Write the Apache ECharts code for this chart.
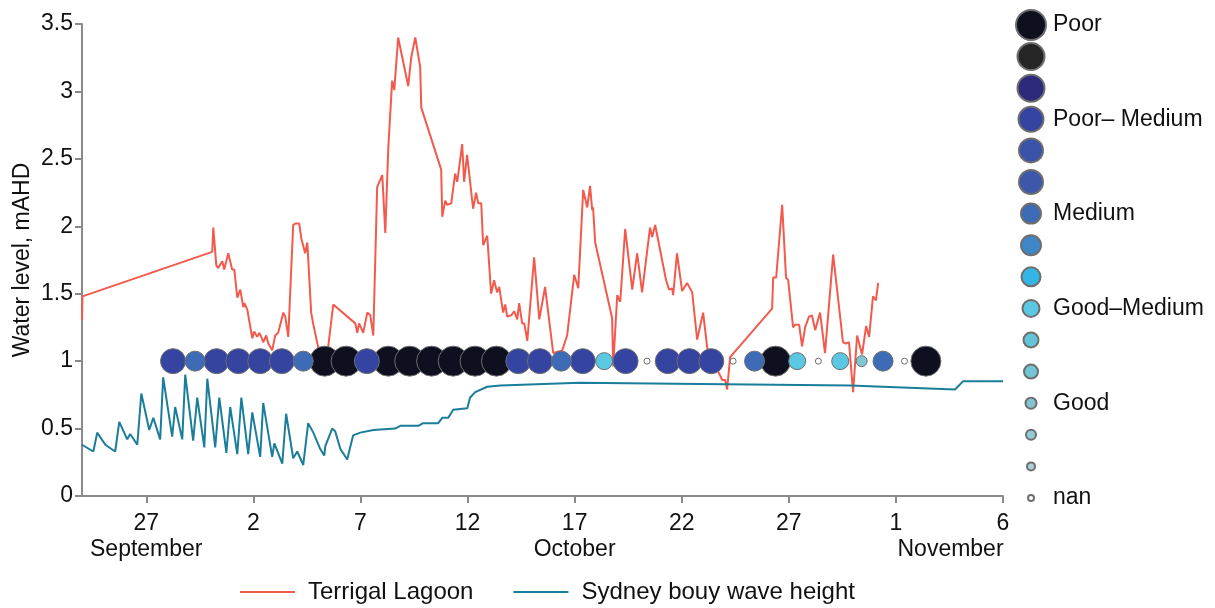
<!DOCTYPE html>
<html>
<head>
<meta charset="utf-8">
<title>Terrigal Lagoon water level</title>
<script src="https://cdn.jsdelivr.net/npm/echarts@6/dist/echarts.min.js"></script>
<style>
html, body { margin: 0; padding: 0; background: #fff; }
#main { width: 1215px; height: 608px; }
</style>
</head>
<body>
<div id="main"></div>
<script>
// all x values are days counted from 24 September

// [day, water level mAHD]
const lagoonLevel = [
    [0, 1.30], [0.02, 1.48], [6.08, 1.81], [6.13, 1.99], [6.27, 1.71], [6.36, 1.69], [6.55, 1.74],
    [6.64, 1.68], [6.83, 1.80], [7.01, 1.68], [7.11, 1.68], [7.25, 1.47], [7.39, 1.53], [7.53, 1.40],
    [7.58, 1.43], [7.72, 1.38], [7.95, 1.17], [8.04, 1.22], [8.18, 1.18], [8.28, 1.21], [8.37, 1.18],
    [8.46, 1.14], [8.60, 1.19], [8.70, 1.13], [8.88, 1.08], [9.02, 1.19], [9.16, 1.21], [9.40, 1.36],
    [9.49, 1.33], [9.63, 1.18], [9.86, 2.01], [9.96, 2.02], [10.14, 2.02], [10.24, 1.91], [10.33, 1.90],
    [10.42, 1.80], [10.52, 1.88], [10.70, 1.36], [10.79, 1.28], [11.03, 1.10], [11.21, 1.02], [11.49, 1.10],
    [11.73, 1.42], [12.76, 1.28], [12.85, 1.21], [12.94, 1.28], [13.13, 1.21], [13.32, 1.36], [13.46, 1.34],
    [13.60, 1.19], [13.78, 2.29], [14.02, 2.38], [14.16, 1.95], [14.30, 2.58], [14.48, 3.08], [14.58, 3.01],
    [14.76, 3.40], [15.23, 3.04], [15.37, 3.25], [15.56, 3.40], [15.79, 3.18], [15.84, 2.88], [16.77, 2.42],
    [16.82, 2.07], [16.96, 2.19], [17.05, 2.16], [17.24, 2.17], [17.42, 2.39], [17.52, 2.33], [17.75, 2.61],
    [17.84, 2.33], [17.98, 2.53], [18.26, 2.13], [18.40, 2.25], [18.50, 2.17], [18.64, 2.17], [18.73, 1.86],
    [18.92, 1.93], [19.10, 1.50], [19.24, 1.60], [19.38, 1.51], [19.48, 1.55], [19.66, 1.36], [19.76, 1.42],
    [19.85, 1.33], [20.04, 1.34], [20.18, 1.37], [20.32, 1.31], [20.41, 1.43], [20.55, 1.28], [20.65, 1.28],
    [20.79, 1.15], [21.11, 1.77], [21.35, 1.31], [21.62, 1.55], [22.00, 1.06], [22.42, 1.08], [22.65, 1.19],
    [22.98, 1.64], [23.17, 1.54], [23.40, 2.27], [23.59, 2.14], [23.72, 2.30], [23.82, 2.12], [23.86, 2.14],
    [23.96, 1.88], [24.75, 1.32], [24.80, 0.96], [24.99, 1.49], [25.13, 1.44], [25.36, 1.98], [25.69, 1.53],
    [25.92, 1.80], [26.15, 1.51], [26.52, 1.99], [26.62, 1.92], [26.76, 2.01], [26.85, 2.02], [27.27, 1.60],
    [27.41, 1.53], [27.55, 1.54], [27.60, 1.49], [27.78, 1.80], [28.02, 1.52], [28.25, 1.58], [28.49, 1.51],
    [28.72, 1.16], [29.00, 1.36], [29.19, 1.10], [29.56, 0.97], [29.89, 0.86], [30.03, 0.86], [30.12, 0.79],
    [30.26, 1.03], [32.22, 1.39], [32.27, 1.62], [32.41, 1.62], [32.69, 2.16], [32.87, 1.62], [32.97, 1.60],
    [33.20, 1.25], [33.30, 1.27], [33.48, 1.27], [33.62, 1.11], [33.76, 1.25], [33.94, 1.33], [34.08, 1.34],
    [34.23, 1.23], [34.46, 1.36], [34.69, 1.06], [35.07, 1.79], [35.53, 1.14], [35.67, 1.13], [35.81, 1.14],
    [36.00, 0.77], [36.19, 1.19], [36.42, 1.05], [36.61, 1.26], [36.75, 1.18], [36.93, 1.48], [37.07, 1.45],
    [37.17, 1.58]
];

// [day, wave height]
const waveHeight = [
    [0, 0.38], [0.53, 0.33], [0.71, 0.47], [1.09, 0.38], [1.55, 0.33], [1.74, 0.55], [2.11, 0.42],
    [2.25, 0.46], [2.58, 0.38], [2.77, 0.76], [3.14, 0.49], [3.33, 0.58], [3.65, 0.42], [3.79, 0.88],
    [4.21, 0.44], [4.35, 0.66], [4.68, 0.42], [4.82, 0.90], [5.19, 0.41], [5.38, 0.73], [5.71, 0.36],
    [5.85, 0.87], [6.22, 0.36], [6.41, 0.73], [6.74, 0.32], [6.92, 0.66], [7.25, 0.31], [7.44, 0.73],
    [7.76, 0.31], [7.95, 0.62], [8.32, 0.29], [8.46, 0.69], [8.88, 0.29], [8.98, 0.39], [9.35, 0.24],
    [9.53, 0.61], [9.86, 0.28], [10.05, 0.33], [10.33, 0.23], [10.56, 0.54], [10.80, 0.47], [11.12, 0.35],
    [11.31, 0.30], [11.36, 0.37], [11.45, 0.38], [11.68, 0.50], [11.82, 0.48], [12.06, 0.35], [12.38, 0.27],
    [12.66, 0.45], [12.99, 0.47], [13.60, 0.49], [14.62, 0.50], [14.86, 0.52], [15.70, 0.52], [15.93, 0.54],
    [16.63, 0.54], [16.82, 0.58], [17.10, 0.58], [17.33, 0.64], [17.99, 0.65], [18.12, 0.73], [18.36, 0.77],
    [18.92, 0.81], [19.53, 0.82], [23.24, 0.84], [28.86, 0.83], [35.86, 0.82], [40.76, 0.79], [41.13, 0.85],
    [43, 0.85]
];

// daily water quality, plotted along y = 1
const qualityDay = [
    4.25, 5.28, 6.28, 7.30, 8.32, 9.33, 10.33, 11.33, 12.33, 13.30, 14.30, 15.30,
    16.32, 17.33, 18.35, 19.35, 20.37, 21.38, 22.38, 23.38, 24.38, 25.38, 26.38, 27.35,
    28.36, 29.38, 30.40, 31.40, 32.38, 33.39, 34.38, 35.40, 36.40, 37.40, 38.40, 39.40
];
const qualityClass = [
    3, 6, 3, 3, 3, 3, 6, 0, 0, 3, 0, 0,
    0, 0, 0, 0, 3, 3, 6, 3, 9, 3, 15, 3,
    3, 3, 15, 6, 0, 9, 15, 9, 12, 6, 15, 0
];
const classLabels = [
    'Poor', '', '', 'Poor\u2013 Medium', '', '', 'Medium', '', '',
    'Good\u2013Medium', '', '', 'Good', '', '', 'nan'
];

const xTickDays = [3, 8, 13, 18, 23, 28, 33, 38, 43];
const xTickLabels = ['27', '2', '7', '12', '17', '22', '27', '1', '6'];
// month names sit on a second row; November is left-aligned with its "1"
const monthDays = [3, 23, 40.55];
const monthLabels = ['September', 'October', 'November'];

// styling
const classColors = [
    '#0e1020', '#262626', '#2c2a7a', '#3444a0', '#3a52a8', '#3d58ab', '#3d6bb6', '#3f86c8',
    '#33b5e8', '#5ac8e2', '#62c5d8', '#72c6d6', '#82c6d3', '#93cad6', '#abd1da', '#ffffff'
];
const classSizes = [30, 27, 27, 25, 24, 24, 20, 20, 19, 17, 15, 14, 11, 10, 8, 6];
const RED = '#f25a4d';
const TEAL = '#1a7d9a';
const AXIS = '#8a8a8a';
const FONT = 'Liberation Sans, Arial, sans-serif';
const FS = 23;

const series = [
    {
        name: 'Terrigal Lagoon',
        type: 'line',
        symbol: 'none',
        lineStyle: { color: RED, width: 2 },
        itemStyle: { color: RED },
        data: lagoonLevel,
        z: 2
    },
    {
        name: 'Sydney bouy wave height',
        type: 'line',
        symbol: 'none',
        lineStyle: { color: TEAL, width: 2 },
        itemStyle: { color: TEAL },
        data: waveHeight,
        z: 2
    }
];

const legends = [{
    data: ['Terrigal Lagoon', 'Sydney bouy wave height'],
    icon: 'rect',
    left: 235,
    top: 574,
    itemWidth: 55,
    itemHeight: 2,
    itemGap: 40,
    textStyle: { fontSize: 24, lineHeight: 26, color: '#111', fontFamily: FONT, padding: [0, 0, 0, 8] }
}];

classLabels.forEach((label, i) => {
    const name = 'class' + i;
    const size = classSizes[i];
    const pts = [];
    qualityClass.forEach((c, k) => {
        if (c === i) pts.push([qualityDay[k], 1]);
    });
    series.push({
        name: name,
        type: 'scatter',
        symbol: 'circle',
        symbolSize: size,
        itemStyle: { color: classColors[i], borderColor: '#6e6e6e', borderWidth: 1, opacity: 1 },
        data: pts,
        z: 5
    });
    // one legend per class so every icon keeps its own size
    const rowH = Math.max(size, 26);
    legends.push({
        data: [name],
        orient: 'vertical',
        left: 1030 - size / 2,
        top: 24 + i * 31.6 - rowH / 2,
        padding: 0,
        itemWidth: 30,
        itemHeight: size,
        formatter: label || ' ',
        textStyle: { fontSize: FS, lineHeight: 26, color: '#111', fontFamily: FONT, padding: [0, 0, 0, 2] }
    });
});

const labelText = { fontSize: FS, lineHeight: 26, color: '#111', fontFamily: FONT };

const chart = echarts.init(document.getElementById('main'));
chart.setOption({
    animation: false,
    backgroundColor: '#fff',
    textStyle: { fontFamily: FONT },
    grid: { left: 82, right: 212, top: 24, bottom: 112 },
    legend: legends,
    xAxis: [
        {
            type: 'value',
            min: 0,
            max: 43,
            splitLine: { show: false },
            axisLine: { lineStyle: { color: AXIS, width: 2 } },
            axisTick: { show: true, length: 7, lineStyle: { color: AXIS, width: 2 }, customValues: xTickDays },
            axisLabel: Object.assign({
                customValues: xTickDays,
                margin: 15,
                formatter: function (val) {
                    const i = xTickDays.indexOf(Math.round(val));
                    return i < 0 ? '' : xTickLabels[i];
                }
            }, labelText)
        },
        {
            type: 'value',
            position: 'bottom',
            offset: 0,
            min: 0,
            max: 43,
            splitLine: { show: false },
            axisLine: { show: false },
            axisTick: { show: false },
            axisLabel: Object.assign({
                customValues: monthDays,
                margin: 41,
                formatter: function (val) {
                    const i = monthDays.indexOf(val);
                    return i < 0 ? '' : monthLabels[i];
                }
            }, labelText)
        }
    ],
    yAxis: {
        type: 'value',
        min: 0,
        max: 3.5,
        interval: 0.5,
        name: 'Water level, mAHD',
        nameLocation: 'middle',
        nameGap: 48,
        nameMoveOverlap: false,
        nameTextStyle: { fontSize: 23, color: '#111', fontFamily: FONT },
        splitLine: { show: false },
        axisLine: { show: true, lineStyle: { color: AXIS, width: 2 } },
        axisTick: { show: true, length: 7, lineStyle: { color: AXIS, width: 2 } },
        axisLabel: { fontSize: FS, color: '#111', margin: 9, fontFamily: FONT }
    },
    series: series
});
</script>
</body>
</html>
